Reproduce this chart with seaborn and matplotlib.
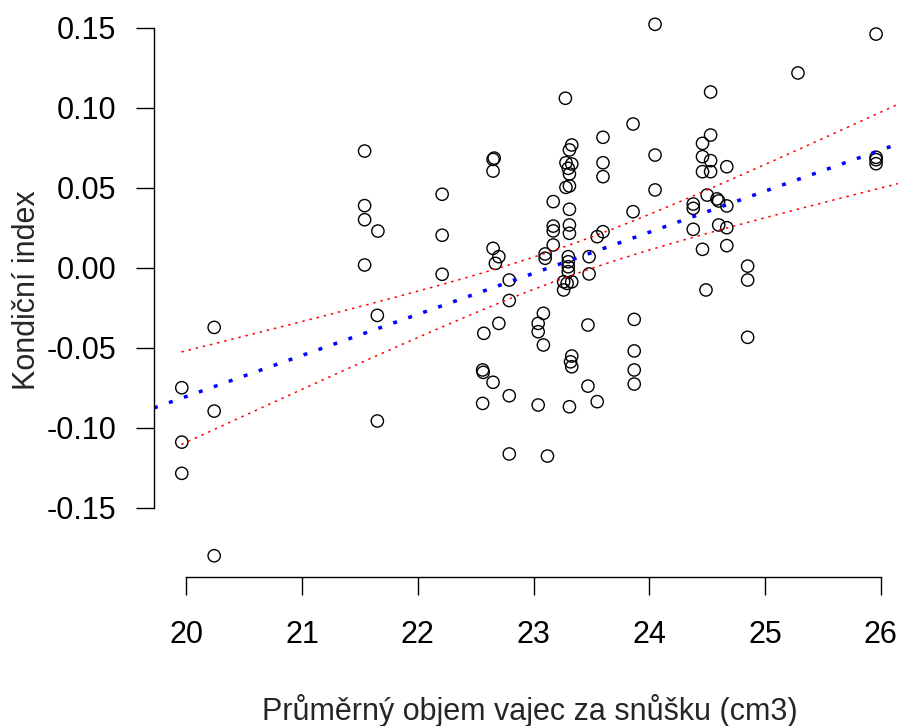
import numpy as np
import pandas as pd
import matplotlib
matplotlib.use("Agg")
import matplotlib.pyplot as plt
import seaborn as sns

# values
objem = [19.96, 19.96, 19.96, 20.24, 20.24, 20.24,
         21.54, 21.54, 21.54, 21.54, 21.655, 21.65, 21.65,
         22.21, 22.21, 22.21,
         22.65, 22.66, 22.65, 22.65, 22.70, 22.67, 22.79, 22.79, 22.70, 22.57,
         22.56, 22.565, 22.65, 22.79, 22.56, 22.79,
         23.085, 23.04, 23.04, 23.085, 23.04, 23.12, 23.10, 23.10,
         23.17, 23.17, 23.17, 23.17,
         23.275, 23.33, 23.31, 23.28, 23.33, 23.30, 23.31, 23.28, 23.31, 23.31,
         23.31, 23.31, 23.30, 23.30, 23.30, 23.30, 23.26, 23.29, 23.33, 23.26,
         23.33, 23.32, 23.33, 23.31,
         23.48, 23.48, 23.47, 23.47, 23.55, 23.55, 23.60, 23.60, 23.60, 23.60,
         23.86, 23.86, 23.87, 23.87, 23.87, 23.87,
         24.05, 24.05, 24.05,
         24.38, 24.38, 24.38, 24.46, 24.46, 24.46, 24.53, 24.46, 24.50, 24.49,
         24.53, 24.53, 24.53, 24.585, 24.60, 24.60, 24.67, 24.67, 24.67, 24.67,
         24.85, 24.85, 24.85,
         25.285, 25.96, 25.96, 25.96, 25.96]
kondice = [-0.075, -0.109, -0.1285, -0.0373, -0.0896, -0.180,
           0.0729, 0.0388, 0.030, 0.0017, 0.0229, -0.0298, -0.0958,
           0.0459, 0.0203, -0.0041,
           0.0677, 0.0685, 0.0604, 0.0121, 0.0069, 0.0027, -0.0077, -0.0205, -0.0348, -0.041,
           -0.0639, -0.0654, -0.0716, -0.080, -0.0848, -0.1164,
           -0.0285, -0.0348, -0.040, -0.0483, -0.0858, -0.1177, 0.0086, 0.0059,
           0.0413, 0.026, 0.023, 0.0142,
           0.1059, 0.0767, 0.0736, 0.0656, 0.0648, 0.0621, 0.0586, 0.0502, 0.0511, 0.0365,
           0.0267, 0.0215, 0.0069, 0.0037, 0.0006, -0.0025, -0.0088, -0.0098, -0.0088, -0.0139,
           -0.0552, -0.0588, -0.0619, -0.0869,
           0.0069, -0.0039, -0.0358, -0.074, -0.0837, 0.0194, 0.0225, 0.0815, 0.0656, 0.0569,
           0.0898, 0.035, -0.0323, -0.052, -0.0639, -0.0727,
           0.1521, 0.0704, 0.0486,
           0.0398, 0.0371, 0.024, 0.0777, 0.0694, 0.060, 0.060, 0.0115, 0.0454, -0.0139,
           0.1098, 0.0829, 0.0669, 0.043, 0.0417, 0.0267, 0.0631, 0.0386, 0.025, 0.0138,
           0.001, -0.0077, -0.0435,
           0.1217, 0.146, 0.069, 0.0675, 0.065]

x_ticks = [20, 21, 22, 23, 24, 25, 26]
y_ticks = [-0.15, -0.10, -0.05, 0.00, 0.05, 0.10, 0.15]

# regression line as drawn in the picture (abline of the model)
fit_intercept = -0.0879 - 0.02566 * 19.71
fit_slope = 0.02566
# x range over which the confidence lines were predicted
band_start = 19.957
band_end = 26.4

df = pd.DataFrame({"objem": objem, "kondice": kondice})

# 95% confidence interval of the mean around the fitted line
x = df["objem"].to_numpy()
y = df["kondice"].to_numpy()
n = len(x)
resid = y - (fit_intercept + fit_slope * x)
s = np.sqrt((resid ** 2).sum() / (n - 2))
t_crit = 1.981
grid = np.linspace(band_start, band_end, 200)
fit = fit_intercept + fit_slope * grid
se = s * np.sqrt(1 / n + (grid - x.mean()) ** 2 / ((x - x.mean()) ** 2).sum())
band = pd.DataFrame({"x": grid, "lower": fit - t_crit * se, "upper": fit + t_crit * se})

sns.set_style("white")
plt.rcParams["font.family"] = ["Liberation Sans", "DejaVu Sans"]

fig = plt.figure(figsize=(8.98, 7.26), dpi=100)
ax = fig.add_axes([0.1715, 0.2052, 0.8363, 0.7904])

sns.scatterplot(data=df, x="objem", y="kondice", ax=ax, s=78,
                facecolor="none", edgecolor="black", linewidth=1.0)
ax.axline((20, fit_intercept + fit_slope * 20), slope=fit_slope, color="blue",
          lw=2.5, linestyle=(0, (1.14, 3.43)), dash_capstyle="butt")
sns.lineplot(data=band, x="x", y="upper", ax=ax, color="red", lw=1.1,
             linestyle=(0, (1.6, 3.2)))
sns.lineplot(data=band, x="x", y="lower", ax=ax, color="red", lw=1.1,
             linestyle=(0, (1.6, 3.2)))

ax.set_xlim(19.72, 26.21)
ax.set_ylim(-0.1933, 0.1653)
ax.set_xticks(x_ticks)
ax.set_yticks(y_ticks)
ax.set_xticklabels([str(v) for v in x_ticks])
ax.set_yticklabels([f"{v:.2f}" for v in y_ticks])

for side in ["top", "right"]:
    ax.spines[side].set_visible(False)
ax.spines["left"].set_bounds(-0.15, 0.15)
ax.spines["bottom"].set_bounds(20, 26)
for side in ["left", "bottom"]:
    ax.spines[side].set_color("black")
    ax.spines[side].set_linewidth(1.0)

ax.tick_params(axis="both", direction="out", length=13, width=1.0,
               color="black", labelsize=22, labelcolor="black",
               left=True, bottom=True)
ax.tick_params(axis="y", pad=14)
ax.tick_params(axis="x", pad=18)

ax.set_xlabel("Průměrný objem vajec za snůšku (cm3)", fontsize=22)
ax.set_ylabel("Kondiční index", fontsize=22)
ax.xaxis.set_label_coords(0.5, -0.2035)
ax.yaxis.set_label_coords(-0.1498, 0.5)

fig.savefig("out.png", dpi=100)
